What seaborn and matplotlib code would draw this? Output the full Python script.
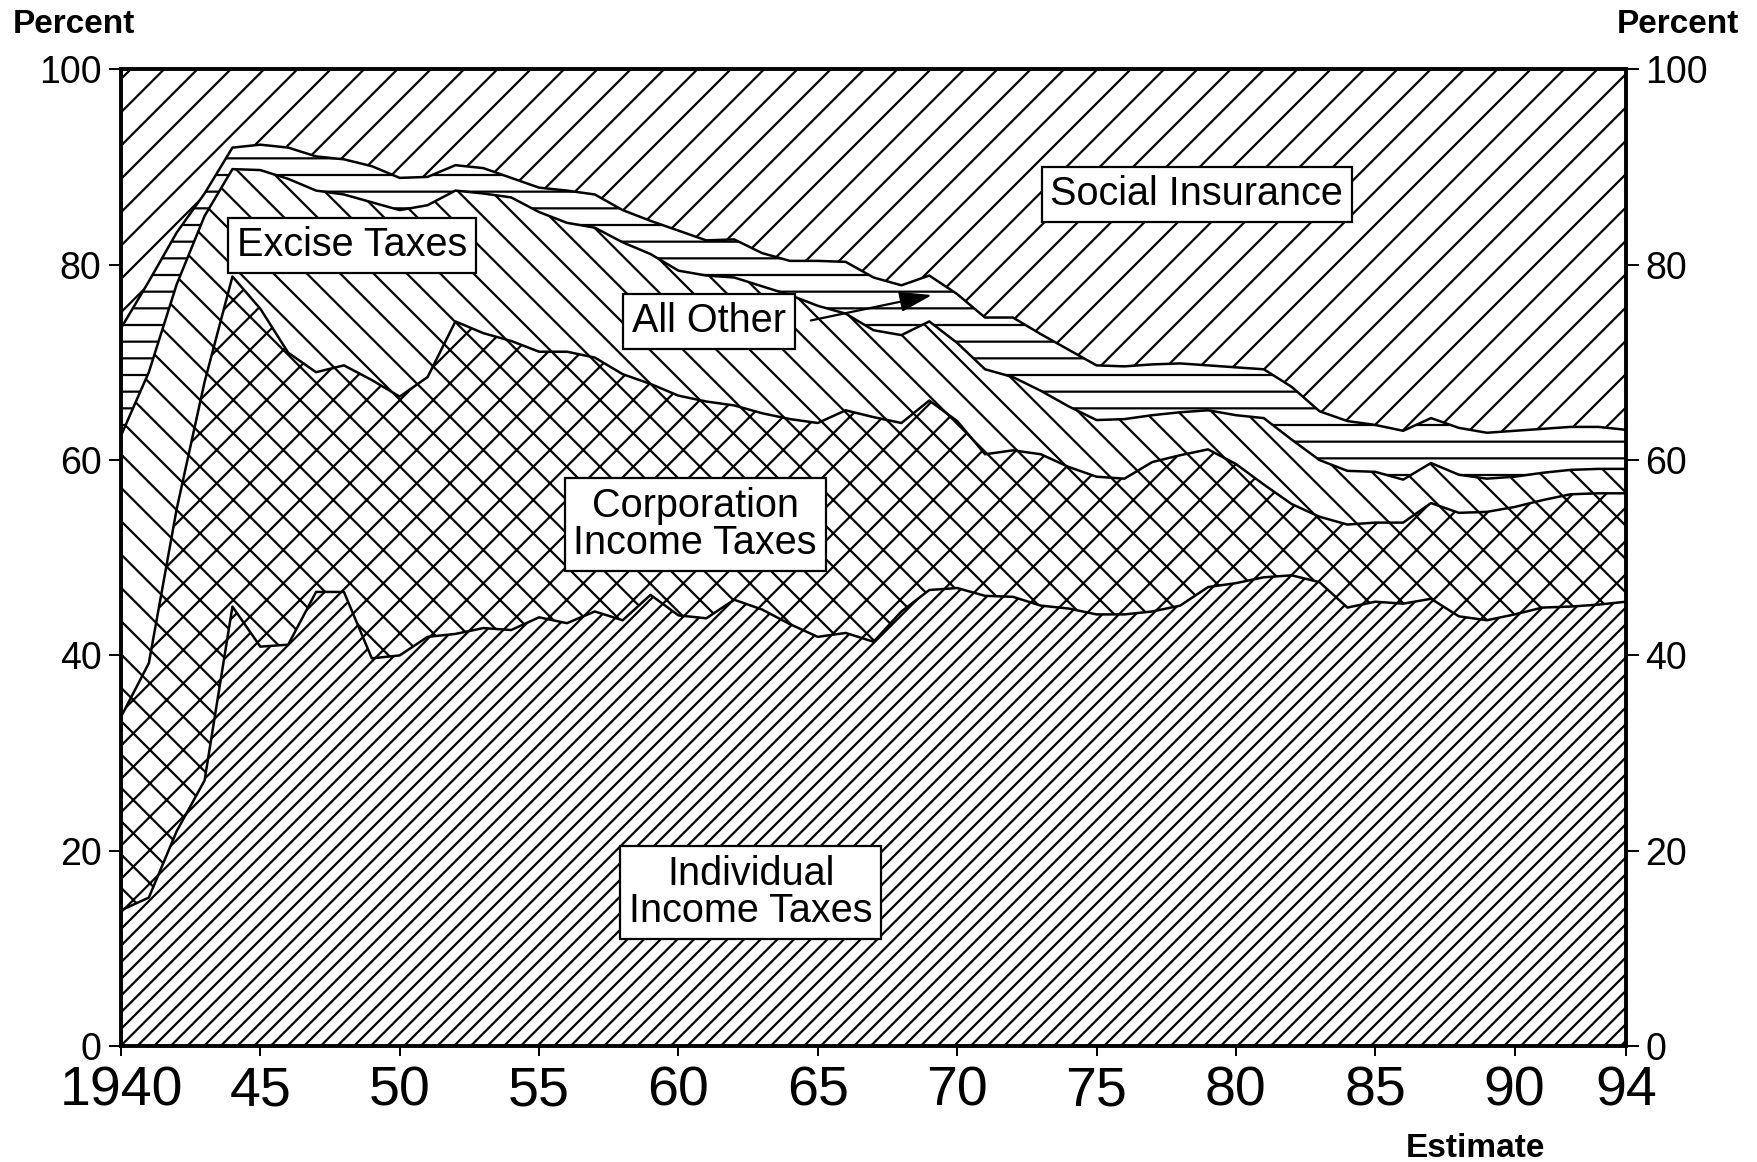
import numpy as np
import pandas as pd
import matplotlib
matplotlib.use("Agg")
import matplotlib.pyplot as plt
import seaborn as sns

# ---- data: percentage composition of receipts, fiscal years 1940-1994 ----
years = list(range(1940, 1995))

individual = [13.9, 15.2, 22.0, 27.2, 45.0, 40.9, 41.1, 46.5, 46.5, 39.7,
              40.0, 41.9, 42.2, 42.8, 42.6, 43.9, 43.3, 44.5, 43.6, 46.2,
              44.1, 43.8, 45.7, 44.7, 43.2, 41.9, 42.3, 41.4, 44.5, 46.7,
              46.9, 46.1, 46.0, 45.1, 44.8, 44.2, 44.2, 44.5, 45.1, 47.0,
              47.4, 48.0, 48.2, 47.5, 44.9, 45.5, 45.3, 45.8, 44.0, 43.6,
              44.2, 44.9, 45.0, 45.2, 45.5]

corporation = [19.8, 24.0, 33.0, 40.8, 33.8, 34.6, 29.9, 22.5, 23.2, 28.5,
               26.5, 26.6, 32.0, 30.2, 29.6, 27.2, 27.8, 26.0, 25.2, 21.6,
               22.5, 22.2, 19.9, 20.1, 21.0, 21.9, 22.8, 23.0, 19.3, 19.4,
               17.1, 14.5, 15.0, 15.5, 14.5, 14.1, 13.9, 15.3, 15.4, 14.1,
               12.2, 9.5, 7.3, 6.7, 8.5, 8.1, 8.3, 9.8, 10.6, 11.1,
               11.0, 11.0, 11.5, 11.4, 11.1]

excise = [28.8, 29.8, 23.0, 17.0, 11.0, 14.2, 17.8, 18.6, 17.5, 18.2,
          19.1, 17.6, 13.4, 14.3, 14.7, 14.3, 13.2, 13.3, 13.5, 13.3,
          12.8, 12.9, 13.1, 13.0, 12.7, 12.0, 9.9, 8.9, 9.0, 8.1,
          8.0, 8.7, 7.5, 6.5, 6.2, 5.8, 6.1, 4.8, 4.4, 4.0,
          5.0, 6.8, 6.6, 5.8, 5.5, 5.2, 4.4, 4.1, 3.9, 3.4,
          3.1, 2.8, 2.5, 2.5, 2.5]

all_other = [11.0, 9.3, 5.3, 2.3, 2.2, 2.6, 3.2, 3.5, 3.6, 3.7,
             3.3, 2.9, 2.6, 2.6, 2.0, 2.5, 3.3, 3.4, 3.3, 3.4,
             4.1, 3.6, 3.9, 3.4, 3.5, 4.6, 5.3, 5.4, 5.1, 4.7,
             5.0, 5.3, 6.1, 5.8, 5.8, 5.6, 5.4, 5.2, 5.0, 4.6,
             4.9, 5.0, 5.4, 5.0, 5.1, 4.8, 5.0, 4.6, 4.8, 4.7,
             4.7, 4.5, 4.4, 4.3, 4.0]

social_insurance = [26.5, 21.7, 16.7, 12.7, 8.0, 7.7, 8.0, 8.9, 9.2, 9.9,
                    11.1, 11.0, 9.8, 10.1, 11.1, 12.1, 12.4, 12.8, 14.4, 15.5,
                    16.5, 17.5, 17.4, 18.8, 19.6, 19.6, 19.7, 21.3, 22.1, 21.1,
                    23.0, 25.4, 25.4, 27.1, 28.7, 30.3, 30.4, 30.2, 30.1, 30.3,
                    30.5, 30.7, 32.5, 35.0, 36.0, 36.4, 37.0, 35.7, 36.7, 37.2,
                    37.0, 36.8, 36.6, 36.6, 36.9]

x_ticks = [1940, 1945, 1950, 1955, 1960, 1965, 1970, 1975, 1980, 1985, 1990, 1994]
x_tick_labels = ["1940", "45", "50", "55", "60", "65", "70", "75", "80", "85", "90", "94"]
y_ticks = [0, 20, 40, 60, 80, 100]

df = pd.DataFrame({
    "year": years,
    "Individual Income Taxes": individual,
    "Corporation Income Taxes": corporation,
    "Excise Taxes": excise,
    "All Other": all_other,
    "Social Insurance": social_insurance,
})
layers = ["Individual Income Taxes", "Corporation Income Taxes",
          "Excise Taxes", "All Other", "Social Insurance"]
hatches = {"Individual Income Taxes": "//", "Corporation Income Taxes": "x",
           "Excise Taxes": "\\", "All Other": "-", "Social Insurance": "/"}

# ---- style ----
sns.set_theme(style="white")
plt.rcParams["font.family"] = ["Liberation Sans", "DejaVu Sans"]
plt.rcParams["hatch.linewidth"] = 1.6
plt.rcParams["hatch.color"] = "black"

fig = plt.figure(figsize=(17.58, 11.62), dpi=100)
ax = fig.add_axes([0.0688, 0.0998, 0.8562, 0.8404])

cum = df[layers].cumsum(axis=1)
bottom = np.zeros(len(df))
for name in layers:
    top = cum[name].to_numpy()
    ax.fill_between(df["year"], bottom, top, facecolor="white",
                    edgecolor="black", hatch=hatches[name], linewidth=0)
    bottom = top

# boundaries between the bands
for name in layers[:-1]:
    sns.lineplot(x=df["year"], y=cum[name], color="black", linewidth=1.8,
                 ax=ax, legend=False)

ax.set_xlim(1940, 1994)
ax.set_ylim(0, 100)
ax.set_xlabel("")
ax.set_ylabel("")
ax.set_xticks(x_ticks)
ax.set_xticklabels(x_tick_labels,
                   fontdict={"family": ["Liberation Sans Narrow", "Liberation Sans"],
                             "size": 40})
ax.set_yticks(y_ticks)
ax.tick_params(axis="y", which="both", left=True, right=True, labelleft=True,
               labelright=True, direction="out", length=9, width=1.4,
               labelsize=27, pad=5, color="black", labelcolor="black")
ax.tick_params(axis="x", bottom=True, direction="out", length=7, width=1.4,
               pad=7, color="black", labelcolor="black")
for s in ax.spines.values():
    s.set_visible(True)
    s.set_color("black")
    s.set_linewidth(2.8)

# ---- labels ----
box = dict(boxstyle="square,pad=0.22", fc="white", ec="black", lw=1.6)
lab_kw = dict(ha="center", va="center", fontsize=28.5, color="black",
              bbox=box, linespacing=0.98, zorder=5)
ax.text(1978.6, 87.2, "Social Insurance", **lab_kw)
ax.text(1948.3, 82.0, "Excise Taxes", **lab_kw)
ax.text(1961.1, 74.2, "All Other", **lab_kw)
ax.text(1960.6, 53.4, "Corporation\nIncome Taxes", **lab_kw)
ax.text(1962.6, 15.7, "Individual\nIncome Taxes", **lab_kw)
ax.annotate("", xy=(1969.1, 76.9), xytext=(1964.75, 74.3),
            arrowprops=dict(arrowstyle="-|>,head_length=0.8,head_width=0.25",
                            mutation_scale=25, color="black", lw=1.6,
                            shrinkA=0, shrinkB=0), zorder=6)

fig.text(0.0074, 0.9716, "Percent", fontsize=24, fontweight="bold",
         ha="left", va="baseline", color="black")
fig.text(0.989, 0.9716, "Percent", fontsize=24, fontweight="bold",
         ha="right", va="baseline", color="black")
fig.text(0.839, 0.0043, "Estimate", fontsize=24, fontweight="bold",
         ha="center", va="baseline", color="black")

fig.savefig("out.png", dpi=100, facecolor="white")
